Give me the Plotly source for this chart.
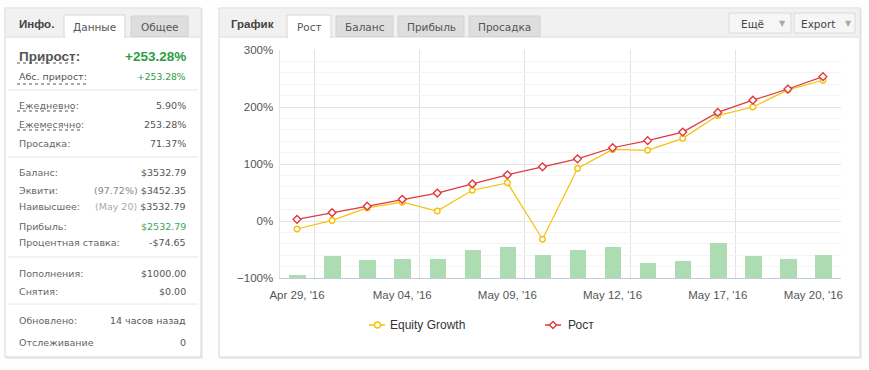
import plotly.graph_objects as go

W, H = 869, 370

# ---------------- data ----------------
dates = ["Apr 29, '16", "May 02, '16", "May 03, '16", "May 04, '16", "May 05, '16",
         "May 06, '16", "May 09, '16", "May 10, '16", "May 11, '16", "May 12, '16",
         "May 13, '16", "May 16, '16", "May 17, '16", "May 18, '16", "May 19, '16",
         "May 20, '16"]
rost = [3, 14.6, 26, 38, 49, 65, 81, 95, 109, 128.5, 141, 156, 190.5, 212, 231.5, 253.28]
equity = [-14, 1, 23, 33, 17.5, 54, 67, -32, 92, 125.5, 124, 145, 185, 200, 230, 247]
bars = [0.5, 3.9, 3.1, 3.4, 3.4, 5.0, 5.4, 4.0, 5.0, 5.4, 2.6, 2.9, 6.1, 3.8, 3.4, 4.1]
tick_idx = [0, 3, 6, 9, 12, 15]
y_ticks = [-100, 0, 100, 200, 300]
y_ticktext = ["−100%", "0%", "100%", "200%", "300%"]

info_rows = [
    ("Ежедневно:", "5.90%"),
    ("Ежемесячно:", "253.28%"),
    ("Просадка:", "71.37%"),
    ("Баланс:", "$3532.79"),
    ("Эквити:", "<span style='color:#888'>(97.72%)</span> $3452.35"),
    ("Наивысшее:", "<span style='color:#aaa'>(May 20)</span> $3532.79"),
    ("Прибыль:", "<span style='color:#3aa655'>$2532.79</span>"),
    ("Процентная ставка:", "-$74.65"),
    ("Пополнения:", "$1000.00"),
    ("Снятия:", "$0.00"),
    ("Обновлено:", "14 часов назад"),
    ("Отслеживание", "0"),
]
info_y = [105, 124, 143, 172, 190, 207, 226, 243, 273, 291, 320, 342]

x = list(range(len(dates)))

fig = go.Figure()
fig.add_trace(go.Bar(x=x, y=bars, yaxis="y2", marker=dict(color="#aedcb2", line=dict(width=0)),
                     width=0.47, showlegend=False, hoverinfo="skip"))
fig.add_trace(go.Scatter(x=x, y=equity, mode="lines+markers", name="Equity Growth",
                         line=dict(color="#f4c20d", width=1.2),
                         marker=dict(symbol="circle", size=5.5, color="white",
                                     line=dict(color="#f4c20d", width=1.4)),
                         showlegend=False))
fig.add_trace(go.Scatter(x=x, y=rost, mode="lines+markers", name="Рост",
                         line=dict(color="#e0393e", width=1.2),
                         marker=dict(symbol="diamond", size=6, color="white",
                                     line=dict(color="#e0393e", width=1.4)),
                         showlegend=False))

# ---------------- helpers ----------------
shapes = []
annotations = []


def px(v):
    return v / W


def py(v):
    return 1 - v / H


def rect(x0, y0, x1, y1, fill, line=None, lw=1):
    shapes.append(dict(type="rect", xref="paper", yref="paper", layer="below",
                       x0=px(x0), x1=px(x1), y0=py(y1), y1=py(y0), fillcolor=fill,
                       line=dict(color=line or "rgba(0,0,0,0)", width=lw if line else 0)))


def hline(x0, x1, y, color, dash="solid", lw=1):
    shapes.append(dict(type="line", xref="paper", yref="paper", layer="below",
                       x0=px(x0), x1=px(x1), y0=py(y), y1=py(y),
                       line=dict(color=color, width=lw, dash=dash)))


def text(xp, yp, t, size=10, color="#555", anchor="left", family="DejaVu Sans", bold=False):
    if bold:
        t = "<b>" + t + "</b>"
    annotations.append(dict(x=px(xp), y=py(yp), xref="paper", yref="paper", text=t,
                            showarrow=False, xanchor=anchor, yanchor="middle",
                            font=dict(size=size, color=color, family=family)))


HDR = "Liberation Sans"

# ---------------- left panel ----------------
rect(6, 9, 203, 359, "#eeeeee")  # shadow
rect(5, 8, 201, 357, "white", "#d6d6d6")
rect(6, 9, 200, 37, "#f1f1f1")
hline(6, 200, 37, "#dcdcdc")
text(17, 24, "Инфо.", 11.5, "#444", family=HDR, bold=True)
rect(64, 15, 125, 37.5, "white", "#d6d6d6")
hline(65, 124, 37.5, "white", lw=2)
text(94.5, 27, "Данные", 10.5, "#555", anchor="center")
rect(131, 16, 188, 36.5, "#dedede", "#d2d2d2")
text(159.5, 27, "Общее", 10.5, "#555", anchor="center")

text(17, 57, "Прирост:", 13.5, "#555", family=HDR, bold=True)
text(188, 57, "+253.28%", 13.5, "#2a9e45", anchor="right", family=HDR, bold=True)
hline(17, 77, 63, "#555", dash="dot")
text(17, 76, "Абс. прирост:", 9.5, "#555")
text(188, 76, "+253.28%", 9.2, "#2a9e45", anchor="right")
hline(17, 86, 84, "#555", dash="dot")
hline(8, 198, 90, "#e6e6e6")
hline(17, 77, 111, "#555", dash="dot")
hline(17, 82, 130, "#555", dash="dot")
hline(8, 198, 157, "#e6e6e6")
hline(8, 198, 257, "#e6e6e6")
hline(8, 198, 304, "#e6e6e6")
for (lab, val), yy in zip(info_rows, info_y):
    text(17, yy, lab, 9.5, "#666")
    text(188, yy, val, 9.5, "#555", anchor="right")

# ---------------- right panel ----------------
rect(220, 9, 862, 359, "#eeeeee")
rect(219, 8, 860, 357, "white", "#d6d6d6")
rect(220, 9, 859, 37, "#f1f1f1")
hline(220, 859, 37, "#dcdcdc")
text(229, 24, "График", 11.5, "#444", family=HDR, bold=True)
rect(287, 15, 331, 37.5, "white", "#d6d6d6")
hline(288, 330, 37.5, "white", lw=2)
text(309, 27, "Рост", 10.5, "#555", anchor="center")
for x0, x1, lab in [(336, 393, "Баланс"), (398, 464, "Прибыль"), (469, 540, "Просадка")]:
    rect(x0, 16, x1, 36.5, "#dedede", "#d2d2d2")
    text((x0 + x1) / 2, 27, lab, 10.5, "#555", anchor="center")
rect(729, 13, 791, 33, "#f6f6f6", "#dadada")
text(752, 23.5, "Ещё", 10.5, "#444", anchor="center")
text(782, 23, "▼", 8, "#aaa", anchor="center")
rect(794, 13, 855, 33, "#f6f6f6", "#dadada")
text(818, 23.5, "Export", 10.5, "#444", anchor="center")
text(848, 23, "▼", 8, "#aaa", anchor="center")

# ---------------- legend (custom) ----------------
hline(369, 385, 325, "#f4c20d", lw=1.5)
shapes.append(dict(type="circle", xref="paper", yref="paper", x0=px(374.5), x1=px(380.5),
                   y0=py(328), y1=py(322), fillcolor="white", line=dict(color="#f4c20d", width=1.4)))
text(388, 325, "Equity Growth", 12, "#333", family="Liberation Sans")
hline(545, 561, 325, "#e0393e", lw=1.5)
cx, cy = 553, 325
shapes.append(dict(type="path", xref="paper", yref="paper",
                   path=f"M {px(cx)} {py(cy-3.5)} L {px(cx+3.5)} {py(cy)} L {px(cx)} {py(cy+3.5)} L {px(cx-3.5)} {py(cy)} Z",
                   fillcolor="white", line=dict(color="#e0393e", width=1.4)))
text(566, 325, "Рост", 12, "#333", family="Liberation Sans")

x0d, x1d = 279.5 / W, 840.5 / W
y0d, y1d = 1 - 278 / H, 1 - 50 / H

# last label kept inside the plot like the original (shifted left)
x_ticktext = [dates[i] for i in tick_idx]
x_ticktext[-1] = x_ticktext[-1] + "\u00a0" * 6

fig.update_layout(
    width=W, height=H, margin=dict(l=0, r=0, t=0, b=0, pad=0),
    paper_bgcolor="#fefefe", plot_bgcolor="rgba(0,0,0,0)",
    shapes=shapes, annotations=annotations, bargap=0,
    xaxis=dict(domain=[x0d, x1d], range=[-0.5, 15.5], tickvals=tick_idx,
               ticktext=x_ticktext, showgrid=False, zeroline=False,
               showline=True, linecolor="#c3cdd9", linewidth=1, ticks="",
               ticklabelstandoff=6, automargin=False,
               tickfont=dict(family="Liberation Sans", size=11.5, color="#555"),
               minor=dict(tickvals=[i + 0.5 for i in tick_idx], showgrid=True,
                          gridcolor="#e2e2e2", gridwidth=1, ticks=""),
               fixedrange=True),
    yaxis=dict(domain=[y0d, y1d], range=[-100, 300], tickvals=y_ticks, ticktext=y_ticktext,
               showgrid=True, gridcolor="#e4e4e4", zeroline=False, showline=True,
               linecolor="#e4e4e4", ticks="", ticklabelstandoff=3, automargin=False,
               tickfont=dict(family="Liberation Sans", size=11.5, color="#555"),
               minor=dict(dtick=20, showgrid=True, gridcolor="#f4f4f4", ticks=""),
               fixedrange=True),
    yaxis2=dict(overlaying="y", range=[0, 40], visible=False, showgrid=False),
)

fig.write_html("out.html", config={"displayModeBar": False},
               post_script="document.body.style.margin='0';document.body.style.overflow='hidden';")
